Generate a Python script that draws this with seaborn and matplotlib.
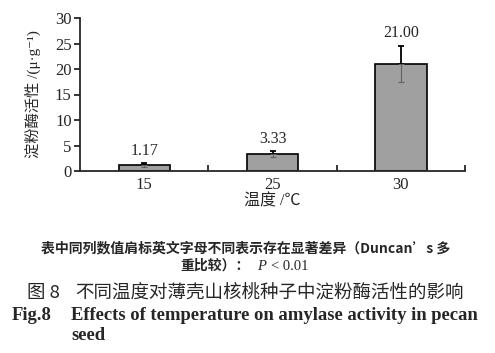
import numpy as np
import matplotlib
matplotlib.use('Agg')
import matplotlib.pyplot as plt
import pandas as pd
import seaborn as sns

temps = ['15', '25', '30']
activity = [1.17, 3.33, 21.00]
errs = [0.4, 0.5, 3.6]
value_labels = ['1.17', '3.33', '21.00']

df = pd.DataFrame({'temp': temps, 'activity': activity})

sns.set_style('ticks')
fams = ['Liberation Serif', 'Noto Sans CJK SC', 'DejaVu Sans']
plt.rcParams['font.family'] = fams
plt.rcParams['axes.linewidth'] = 1.3

W, H = 495, 353
fig = plt.figure(figsize=(W / 100, H / 100), dpi=100)
ax = fig.add_axes([80 / W, 1 - 171 / H, 385 / W, 153 / H])

sns.barplot(data=df, x='temp', y='activity', color='#a0a0a0', width=0.4,
            edgecolor='black', linewidth=1.2, saturation=1, errorbar=None, ax=ax)

x = np.arange(len(temps))
ax.errorbar(x, activity, yerr=[np.zeros(3), errs], fmt='none', ecolor='black',
            elinewidth=1.3, capsize=2.5, capthick=1.3, zorder=5)
ax.errorbar(x, activity, yerr=[errs, np.zeros(3)], fmt='none', ecolor='#606060',
            elinewidth=0.8, capsize=2, capthick=0.8, zorder=5)

for xi, v, e, lab in zip(x, activity, errs, value_labels):
    ax.annotate(lab, (xi, v + e), xytext=(0, 3), textcoords='offset points',
                ha='center', va='bottom', fontsize=11.5, family=fams)

ax.set_xlim(-0.5, 2.5)
ax.set_ylim(0, 30)
ax.set_yticks(range(0, 31, 5))
ax.tick_params(axis='y', direction='out', length=4, width=1.3, labelsize=12, pad=2)
ax.tick_params(axis='x', which='major', length=0, labelsize=12, pad=4)
ax.set_xticks([0.5, 1.5, 2.5], minor=True)
ax.tick_params(axis='x', which='minor', direction='in', length=4, width=1.3)
sns.despine(ax=ax)

ax.set_xlabel('温度 /℃', fontsize=11.5, labelpad=1, family=fams)
ax.set_ylabel('淀粉酶活性 /(μ·g⁻¹)', fontsize=11, labelpad=10, family=fams)


def px(xp, yp):
    return xp / W, 1 - yp / H


cjk = ['Noto Sans CJK SC', 'DejaVu Sans']
fig.text(*px(246, 248), '表中同列数值肩标英文字母不同表示存在显著差异（Duncan’s 多',
         ha='center', va='center', fontsize=10, family=cjk, weight='bold')
fig.text(*px(180, 266), '重比较）：', ha='left', va='center', fontsize=10,
         family=cjk, weight='bold')
fig.text(*px(257, 266), 'P', ha='left', va='center', fontsize=10.5,
         family=fams, style='italic')
fig.text(*px(271, 266), '< 0.01', ha='left', va='center', fontsize=10.5,
         family=fams)
fig.text(*px(27, 293), '图 8', ha='left', va='center', fontsize=13.3, family=cjk)
fig.text(*px(75, 293), '不同温度对薄壳山核桃种子中淀粉酶活性的影响', ha='left',
         va='center', fontsize=13.3, family=cjk)
fig.text(*px(12, 315), 'Fig.8', ha='left', va='center', fontsize=13.4,
         family=fams, weight='bold')
fig.text(*px(71, 315), 'Effects of temperature on amylase activity in pecan',
         ha='left', va='center', fontsize=13.4, family=fams, weight='bold')
fig.text(*px(71, 335), 'seed', ha='left', va='center', fontsize=13.4,
         family=fams, weight='bold')

fig.savefig('out.png', dpi=100)
